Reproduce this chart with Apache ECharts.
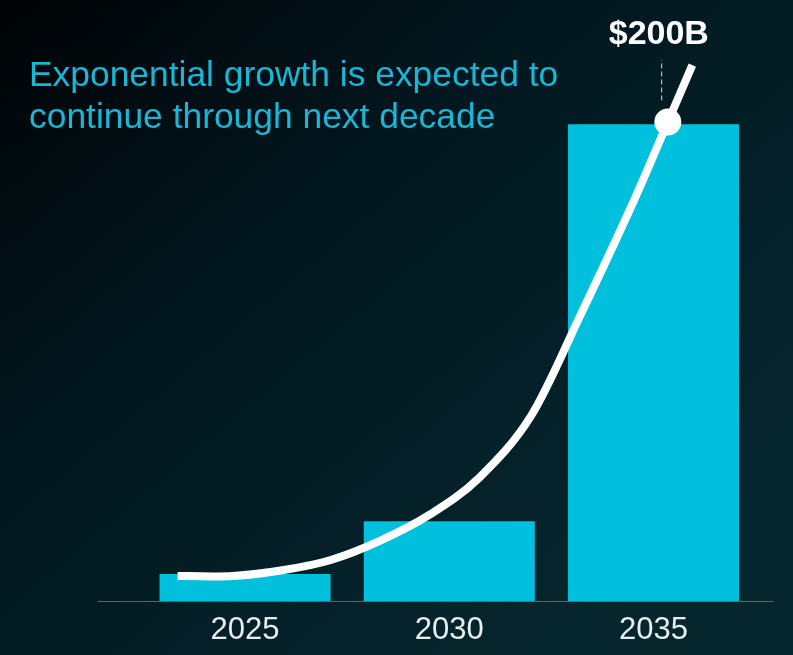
<!DOCTYPE html>
<html>
<head>
<meta charset="utf-8">
<script src="https://cdn.jsdelivr.net/npm/echarts@6/dist/echarts.min.js"></script>
<style>
html, body { margin: 0; padding: 0; background: #000; }
#main { width: 793px; height: 655px; }
</style>
</head>
<body>
<div id="main"></div>
<script type="text/javascript">
// year categories, placed at 0,1,2 on the value x axis
var years = ['2025', '2030', '2035'];
var yearPos = [0, 1, 2];
// market size, $B
var marketSize = [11.3, 33.5, 200];
// growth curve: [x position, $B]
var curveX = [-0.33, -0.06, 0.19, 0.42, 0.66, 0.91, 1.15, 1.40, 1.64, 1.89, 2.07, 2.19];
var curveY = [10.5, 10.5, 13.0, 17.2, 25.2, 36.5, 52.0, 77.6, 119.5, 165.3, 200.9, 224.8];
// highlighted point and its callout
var peakPoint = [2.07, 200.9];
var peakLabel = '$200B';
var leaderX = [2.04, 2.04];
var leaderY = [210, 227];

var chart = echarts.init(document.getElementById('main'));

var barData = yearPos.map(function (x, i) { return [x, marketSize[i]]; });
var curveData = curveX.map(function (x, i) { return [x, curveY[i]]; });
var leaderData = leaderX.map(function (x, i) { return [x, leaderY[i]]; });

// smooth curve through the traced points (catmull-rom -> bezier), in pixel space
function renderCurve(params, api) {
    var pts = curveData.map(function (d) { return api.coord(d); });
    var d = 'M ' + pts[0][0] + ' ' + pts[0][1];
    for (var i = 0; i < pts.length - 1; i++) {
        var p0 = pts[i - 1] || pts[i];
        var p1 = pts[i];
        var p2 = pts[i + 1];
        var p3 = pts[i + 2] || p2;
        var c1x = p1[0] + (p2[0] - p0[0]) / 6, c1y = p1[1] + (p2[1] - p0[1]) / 6;
        var c2x = p2[0] - (p3[0] - p1[0]) / 6, c2y = p2[1] - (p3[1] - p1[1]) / 6;
        d += ' C ' + c1x + ' ' + c1y + ' ' + c2x + ' ' + c2y + ' ' + p2[0] + ' ' + p2[1];
    }
    return {
        type: 'path',
        shape: { pathData: d },
        style: { fill: 'none', stroke: '#ffffff', lineWidth: 8, lineCap: 'butt', lineJoin: 'round' }
    };
}

var option = {
    animation: false,
    backgroundColor: new echarts.graphic.LinearGradient(0, 0, 0.7, 1, [
        { offset: 0, color: '#000305' },
        { offset: 0.45, color: '#021820' },
        { offset: 1, color: '#06262e' }
    ]),
    title: {
        text: 'Exponential growth is expected to\ncontinue through next decade',
        left: 24,
        top: 50,
        textStyle: {
            color: '#19b6d6',
            fontFamily: 'Liberation Sans, Arial, sans-serif',
            fontWeight: 'normal',
            fontSize: 35.4,
            lineHeight: 42
        }
    },
    grid: { left: 98, right: 20, top: 5, bottom: 54 },
    xAxis: {
        type: 'value',
        min: -0.72,
        max: 2.585,
        splitLine: { show: false },
        axisTick: { show: false },
        axisLine: { show: true, lineStyle: { color: '#55666c', width: 1 } },
        axisLabel: {
            customValues: yearPos,
            formatter: function (v) { return years[Math.round(v)]; },
            color: '#e8eef0',
            fontFamily: 'Liberation Sans, Arial, sans-serif',
            fontSize: 31,
            margin: 14
        }
    },
    yAxis: {
        type: 'value',
        min: 0,
        max: 250,
        show: false
    },
    series: [
        {
            type: 'bar',
            data: barData,
            barWidth: 171,
            itemStyle: { color: '#00c0de' }
        },
        {
            type: 'custom',
            data: [curveData[0]],
            renderItem: renderCurve,
            silent: true,
            z: 3
        },
        {
            type: 'line',
            data: leaderData,
            showSymbol: false,
            lineStyle: { color: '#d8dde0', width: 1, type: [5, 3] },
            z: 3
        },
        {
            type: 'scatter',
            data: [peakPoint],
            symbolSize: 27,
            itemStyle: { color: '#ffffff', opacity: 1 },
            label: {
                show: true,
                position: 'top',
                distance: 57,
                offset: [-9, 0],
                formatter: peakLabel,
                color: '#ffffff',
                fontFamily: 'Liberation Sans, Arial, sans-serif',
                fontWeight: 'bold',
                fontSize: 34
            },
            z: 4
        }
    ]
};

chart.setOption(option);
</script>
</body>
</html>
